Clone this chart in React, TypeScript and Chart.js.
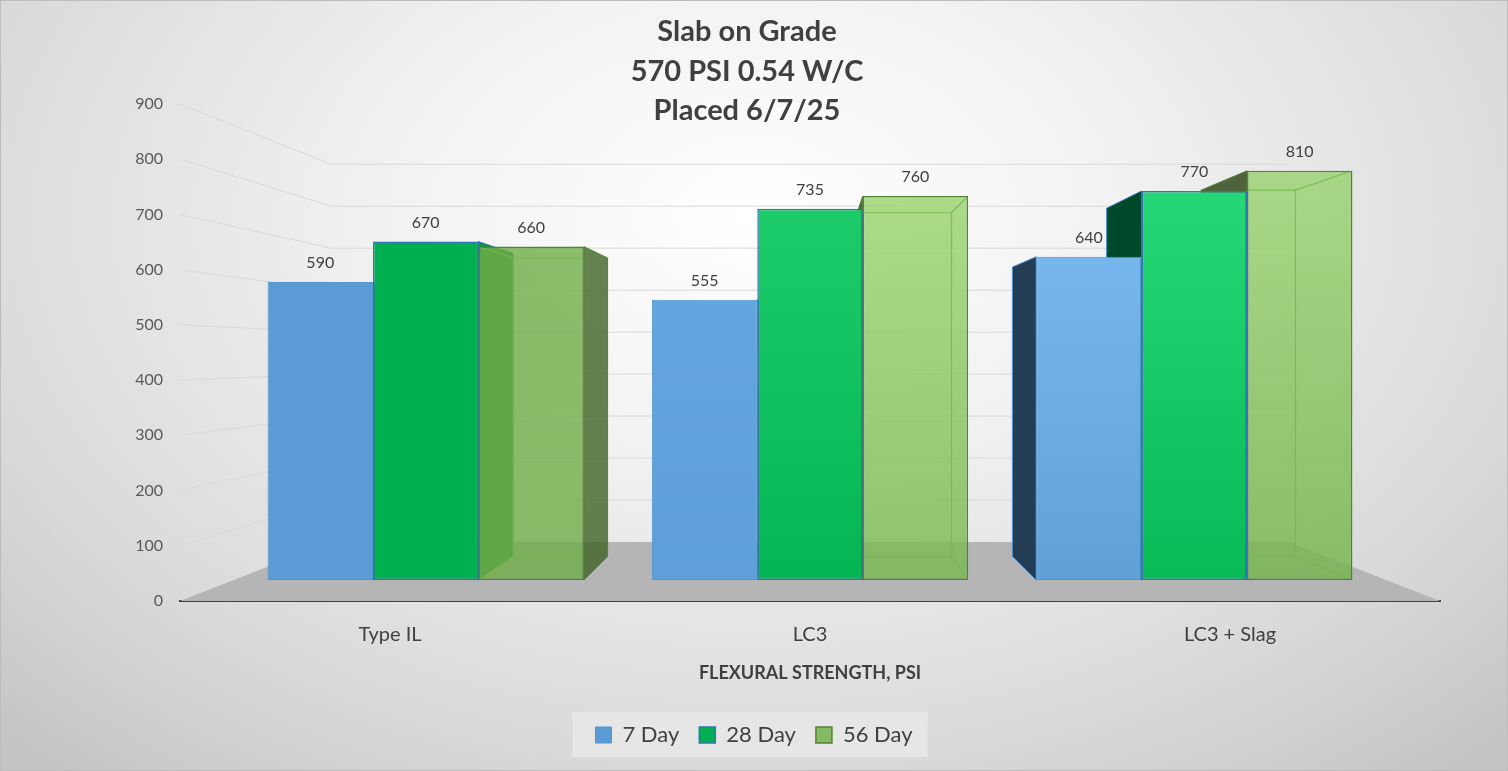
import React, { useEffect, useRef } from 'react';
import { Chart, registerables } from 'chart.js';

Chart.register(...registerables);

// Data
const categories = ['Type IL', 'LC3', 'LC3 + Slag'];
const seriesNames = ['7 Day', '28 Day', '56 Day'];
const day7 = [590, 555, 640];
const day28 = [670, 735, 770];
const day56 = [660, 760, 810];
const yMin = 0;
const yMax = 900;
const yStep = 100;
const titleLines = ['Slab on Grade', '570 PSI 0.54 W/C', 'Placed 6/7/25'];
const axisTitle = 'FLEXURAL STRENGTH, PSI';

const FONT = 'Lato, "Open Sans", sans-serif';
const TEXT = '#404040';

// fake 3D: one point perspective around a vanishing point
const VP_Y = 0.505; // vanishing point, fraction of plot height from top
const K_FRONT = 0.915; // depth of the bar front faces (1 = front edge of floor)
const K_BAR = 0.895; // bar back face, relative to its front face
const K_WALL = 0.76; // back wall

// hidden scales that place the bars at their depth
const ybMin = ((yMax - yMin) * (VP_Y - 1) * (1 - K_FRONT)) / K_FRONT;
const ybMax = ybMin + (yMax - yMin) / K_FRONT;
const n = categories.length;
const xbMin = -((n / K_FRONT) * 0.5 * (1 - K_FRONT) + 0.5);
const xbMax = xbMin + n / K_FRONT;

// colours per series / category
const BASE = ['#5B9BD5', '#00B050', 'rgba(112,173,71,0.8)'];
const TOPS = [
  ['#5B9BD5', '#66A8E2', '#7CBDF4'],
  ['#00B050', '#1FCD6C', '#27D978'],
  ['rgba(112,173,71,0.8)', 'rgba(160,216,120,0.85)', 'rgba(158,212,118,0.85)'],
];
const BOTTOMS = [
  ['#5B9BD5', '#5E9FD9', '#5E9FD8'],
  ['#00B050', '#04B453', '#06B955'],
  ['rgba(112,173,71,0.8)', 'rgba(120,182,80,0.82)', 'rgba(116,178,76,0.82)'],
];
const BORDERS = ['#5394D0', '#2E75B6', '#548235'];
const FACE_RIGHT = ['#3D6A94', '#168C46', 'rgba(62,100,36,0.8)'];
const FACE_LEFT = ['#223D54', '#00482A', 'rgba(44,70,22,0.82)'];

const project = (vx: number, vy: number, x: number, y: number, k: number) => [
  vx + (x - vx) * k,
  vy + (y - vy) * k,
];

const grad = (c: any, s: number) => {
  const i = c.dataIndex;
  if (i === undefined) return BASE[s];
  const a = c.chart.chartArea;
  if (!a) return BOTTOMS[s][i];
  const g = c.chart.ctx.createLinearGradient(0, a.top + 60, 0, a.bottom);
  g.addColorStop(0, TOPS[s][i]);
  g.addColorStop(1, BOTTOMS[s][i]);
  return g;
};

const poly = (ctx: CanvasRenderingContext2D, pts: number[][]) => {
  ctx.beginPath();
  ctx.moveTo(pts[0][0], pts[0][1]);
  for (let i = 1; i < pts.length; i++) ctx.lineTo(pts[i][0], pts[i][1]);
  ctx.closePath();
};

const threeD = {
  id: 'threeD',
  beforeDraw(chart: any) {
    // legend background
    const hb = chart.legend?.legendHitBoxes;
    if (!hb || !hb.length) return;
    const ctx = chart.ctx;
    const first = hb[0];
    const last = hb[hb.length - 1];
    ctx.save();
    ctx.fillStyle = '#e6e6e6';
    ctx.fillRect(first.left - 23, first.top - 12, last.left + last.width + 15 - (first.left - 23), first.height + 23);
    ctx.restore();
  },
  beforeDatasetsDraw(chart: any) {
    const ctx = chart.ctx;
    const { left, right, top, bottom } = chart.chartArea;
    const vx = (left + right) / 2;
    const vy = top + VP_Y * (bottom - top);
    const ys = chart.scales.y;
    ctx.save();
    // floor
    const bl = project(vx, vy, left, bottom, K_WALL);
    const br = project(vx, vy, right, bottom, K_WALL);
    ctx.fillStyle = '#b5b5b5';
    poly(ctx, [[left, bottom], [right, bottom], br, bl]);
    ctx.fill();
    // side wall and back wall grid lines
    ctx.strokeStyle = '#d9d9d9';
    ctx.lineWidth = 1;
    for (let v = yMin + yStep; v <= yMax; v += yStep) {
      const yf = ys.getPixelForValue(v);
      const b = project(vx, vy, left, yf, K_WALL);
      const e = project(vx, vy, right, yf, K_WALL);
      ctx.beginPath();
      ctx.moveTo(left, yf);
      ctx.lineTo(b[0], b[1]);
      ctx.lineTo(e[0], b[1]);
      ctx.stroke();
    }
    // side faces of the bars
    chart.data.datasets.forEach((ds: any, s: number) => {
      chart.getDatasetMeta(s).data.forEach((el: any) => {
        const l = el.x - el.width / 2;
        const r = el.x + el.width / 2;
        let xf: number;
        let fill: string;
        if (r < vx) {
          xf = r;
          fill = FACE_RIGHT[s];
        } else if (l > vx) {
          xf = l;
          fill = FACE_LEFT[s];
        } else return;
        const pts = [[xf, el.y], [xf, el.base], project(vx, vy, xf, el.base, K_BAR), project(vx, vy, xf, el.y, K_BAR)];
        ctx.fillStyle = fill;
        poly(ctx, pts);
        ctx.fill();
        ctx.strokeStyle = BORDERS[s];
        ctx.lineWidth = 1;
        ctx.stroke();
      });
    });
    ctx.restore();
  },
  afterDatasetsDraw(chart: any) {
    const ctx = chart.ctx;
    const { left, right, top, bottom } = chart.chartArea;
    const vx = (left + right) / 2;
    const vy = top + VP_Y * (bottom - top);
    // inner edges seen through the transparent 56 day bars
    const glass = chart.data.datasets.length - 1;
    chart.getDatasetMeta(glass).data.forEach((el: any) => {
      const l = el.x - el.width / 2;
      const r = el.x + el.width / 2;
      const fr = [[l, el.y], [r, el.y], [r, el.base], [l, el.base]];
      const bk = fr.map((p) => project(vx, vy, p[0], p[1], K_BAR));
      ctx.save();
      ctx.beginPath();
      ctx.rect(l + 1, el.y + 1, r - l - 2, el.base - el.y - 2);
      ctx.clip();
      ctx.strokeStyle = 'rgba(118,182,78,0.85)';
      ctx.lineWidth = 1.2;
      poly(ctx, bk);
      ctx.stroke();
      fr.forEach((p, i) => {
        ctx.beginPath();
        ctx.moveTo(p[0], p[1]);
        ctx.lineTo(bk[i][0], bk[i][1]);
        ctx.stroke();
      });
      ctx.restore();
    });
    // value labels
    ctx.save();
    ctx.fillStyle = TEXT;
    ctx.font = `16px ${FONT}`;
    ctx.textAlign = 'center';
    ctx.textBaseline = 'middle';
    chart.data.datasets.forEach((ds: any, s: number) => {
      chart.getDatasetMeta(s).data.forEach((el: any, i: number) => {
        ctx.fillText(String(ds.data[i].y), el.x, el.y - 19);
      });
    });
    ctx.restore();
  },
  afterDraw(chart: any) {
    const ctx = chart.ctx;
    ctx.save();
    ctx.fillStyle = TEXT;
    ctx.font = `bold 29px ${FONT}`;
    ctx.textAlign = 'center';
    ctx.textBaseline = 'middle';
    titleLines.forEach((t, i) => ctx.fillText(t, 747, 32 + i * 39.5));
    ctx.restore();
  },
};

const toPoints = (vals: number[]) => vals.map((v, i) => ({ x: i, y: v }));

export default function App() {
  const canvasRef = useRef<HTMLCanvasElement | null>(null);

  useEffect(() => {
    if (!canvasRef.current) return;
    const series = [day7, day28, day56];
    const chart = new Chart(canvasRef.current, {
      type: 'bar',
      data: {
        labels: categories,
        datasets: series.map((vals, s) => ({
          label: seriesNames[s],
          data: toPoints(vals),
          xAxisID: 'xb',
          yAxisID: 'yb',
          backgroundColor: (c: any) => grad(c, s),
          borderColor: BORDERS[s],
          borderWidth: s === 0 ? 1 : 1.5,
          borderSkipped: false,
        })) as any,
      },
      options: {
        responsive: false,
        animation: false,
        layout: { padding: { top: 104, bottom: 15, left: 0, right: 0 } },
        scales: {
          x: {
            type: 'category',
            position: 'bottom',
            grid: { display: false, drawTicks: false },
            border: { display: true, color: '#404040', width: 2 },
            ticks: { color: TEXT, font: { family: FONT, size: 20 }, padding: 22 },
            title: {
              display: true,
              text: axisTitle,
              color: TEXT,
              font: { family: FONT, size: 18, weight: 'bold' },
              padding: { top: 0, bottom: 20 },
            },
            afterFit: (s: any) => {
              s.height = 103;
            },
          },
          y: {
            type: 'linear',
            position: 'left',
            min: yMin,
            max: yMax,
            grid: { display: false, drawTicks: false },
            border: { display: false },
            ticks: { stepSize: yStep, color: '#595959', font: { family: FONT, size: 16 }, padding: 17 },
            afterFit: (s: any) => {
              s.width = 180;
            },
          },
          yr: {
            type: 'linear',
            position: 'right',
            min: 0,
            max: 1,
            grid: { display: false, drawTicks: false },
            border: { display: false },
            ticks: { display: false },
            afterFit: (s: any) => {
              s.width = 68;
            },
          },
          xb: {
            type: 'linear',
            display: false,
            offset: false,
            grid: { offset: false },
            min: xbMin,
            max: xbMax,
            // one tick per category so the bar ruler spaces groups by category
            afterBuildTicks: (s: any) => {
              s.ticks = categories.map((_, i) => ({ value: i }));
            },
          },
          yb: { type: 'linear', display: false, min: ybMin, max: ybMax },
        },
        datasets: { bar: { categoryPercentage: 0.823, barPercentage: 1 } },
        plugins: {
          tooltip: { enabled: false },
          title: { display: false },
          legend: {
            position: 'bottom',
            labels: { color: TEXT, font: { family: FONT, size: 22 }, boxWidth: 16, boxHeight: 16, padding: 20 },
          },
        },
      } as any,
      plugins: [threeD],
    });
    return () => chart.destroy();
  }, []);

  return (
    <div
      style={{
        position: 'absolute',
        left: 0,
        top: 0,
        width: 1508,
        height: 771,
        background: 'radial-gradient(ellipse 72% 95% at 50% 28%, #ffffff 0%, #f1f1f1 35%, #d9d9d9 75%, #c4c4c4 100%)',
        outline: '1px solid #bdbdbd',
        outlineOffset: -1,
      }}
    >
      <canvas ref={canvasRef} width={1508} height={771} style={{ display: 'block', width: 1508, height: 771 }} />
    </div>
  );
}
